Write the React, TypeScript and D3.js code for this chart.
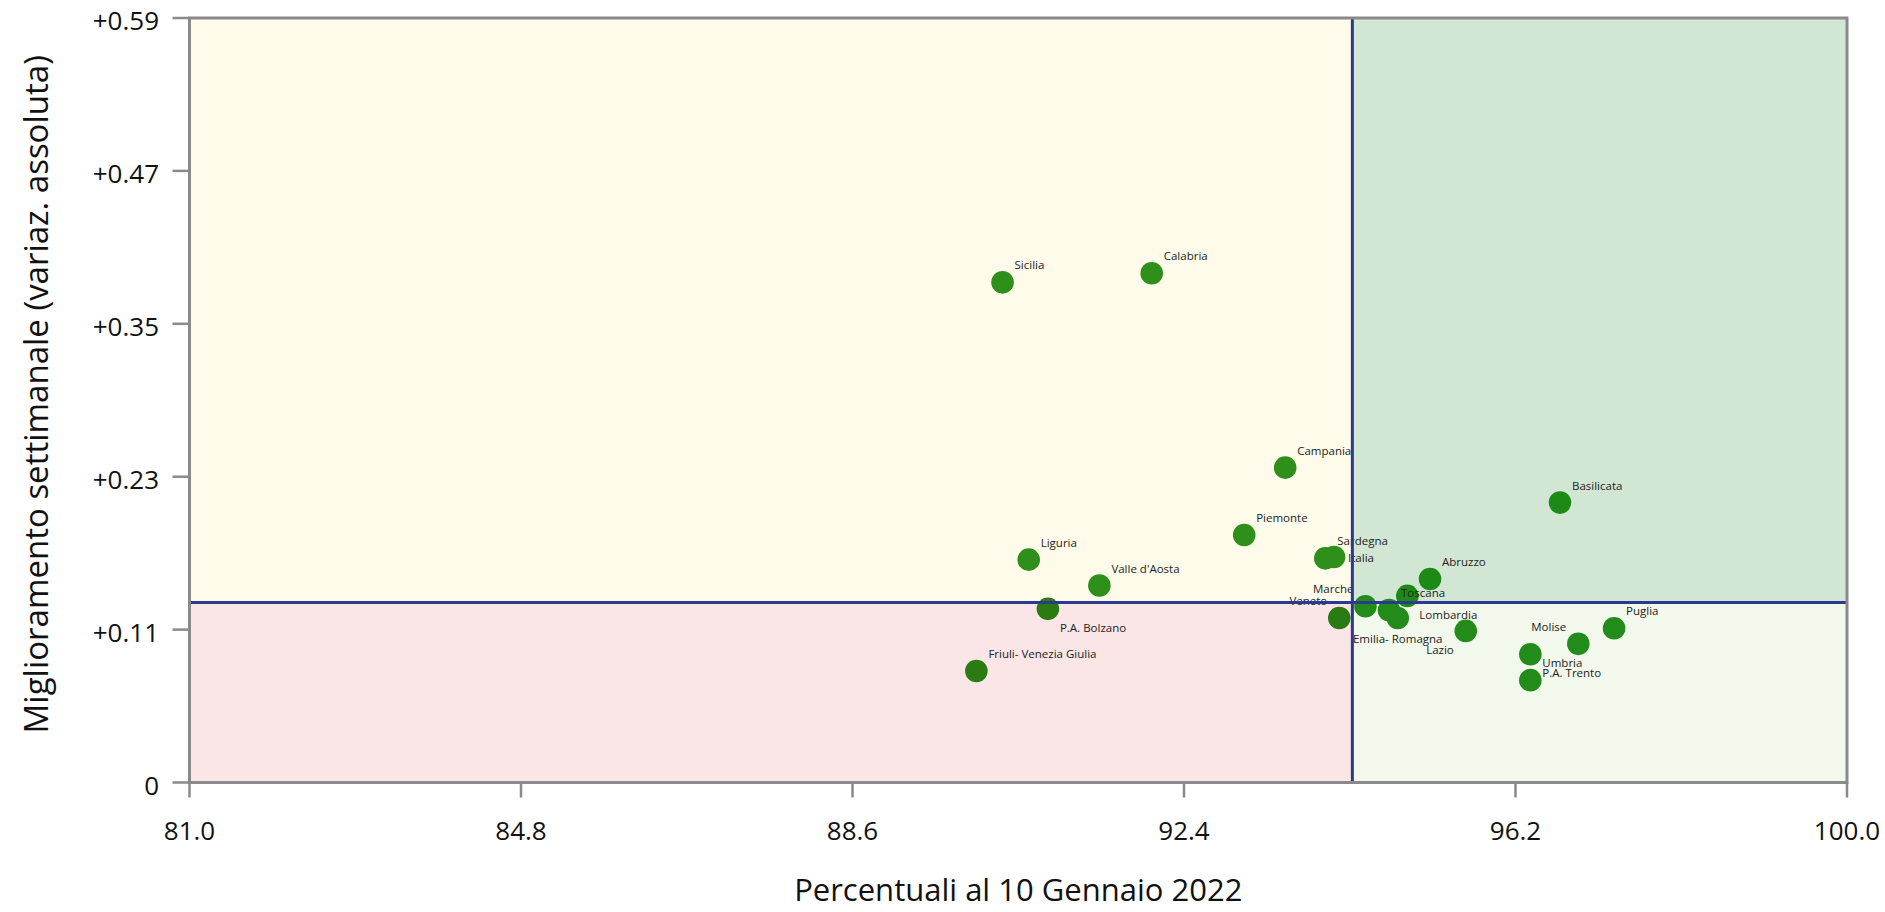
import React from "react";
import * as d3 from "d3";

const regions = [
  "Sicilia", "Calabria", "Campania", "Piemonte", "Liguria", "Valle d'Aosta",
  "P.A. Bolzano", "Friuli- Venezia Giulia", "Sardegna", "Italia", "Marche",
  "Veneto", "Toscana", "Emilia- Romagna", "Lombardia", "Abruzzo", "Lazio",
  "Basilicata", "Puglia", "Molise", "Umbria", "P.A. Trento",
];
const percentuali = [
  90.32, 92.03, 93.56, 93.09, 90.62, 91.43,
  90.84, 90.02, 94.02, 94.12, 94.48,
  94.18, 94.75, 94.85, 94.96, 95.22, 95.63,
  96.71, 97.33, 96.92, 96.37, 96.37,
];
const miglioramento = [
  0.386, 0.393, 0.243, 0.191, 0.172, 0.152,
  0.134, 0.086, 0.173, 0.174, 0.136,
  0.127, 0.133, 0.127, 0.144, 0.157, 0.117,
  0.216, 0.119, 0.107, 0.079, 0.099,
];
// label placement keyword per region (styling, not data)
const labelPlacement: Record<string, string> = {
  "Marche": "NW", "Veneto": "NW", "Molise": "NW",
  "P.A. Bolzano": "SE", "Lombardia": "SE", "P.A. Trento": "SE",
  "Lazio": "SW", "Emilia- Romagna": "S", "Italia": "E",
};
const refX = 94.33;
const refY = 0.139;
const xDomain = [81, 100];
const yDomain = [0, 0.59];
const xTickValues = [81.0, 84.8, 88.6, 92.4, 96.2, 100.0];
const xTickLabels = ["81.0", "84.8", "88.6", "92.4", "96.2", "100.0"];
const yTickLabels = ["0", "+0.11", "+0.23", "+0.35", "+0.47", "+0.59"];
const xTitle = "Percentuali al 10 Gennaio 2022";
const yTitle = "Miglioramento settimanale (variaz. assoluta)";

const W = 1885, H = 912;
const M = { left: 189.5, right: 1847, top: 18, bottom: 782.5 };
const FONT = "'Open Sans', 'Noto Sans', sans-serif";

const offsets: Record<string, [number, number, string]> = {
  NE: [12, -13, "start"],
  NW: [-12, -13, "end"],
  SE: [12, 23, "start"],
  SW: [-12, 23, "end"],
  S: [0, 25, "middle"],
  E: [14, 5, "start"],
};

export default function App() {
  const x = d3.scaleLinear().domain(xDomain).range([M.left, M.right]);
  const y = d3.scaleLinear().domain(yDomain).range([M.bottom, M.top]);
  const yTickValues = d3.range(6).map((i) => (yDomain[1] * i) / 5);
  const rx = x(refX), ry = y(refY);

  const colorFor = (px: number, py: number) => {
    if (px < refX && py >= refY) return "#2e8f1a";
    if (px >= refX && py >= refY) return "#1c8a14";
    if (px < refX && py < refY) return "#2a7b12";
    return "#228b1a";
  };

  const pts = regions.map((name, i) => ({
    name,
    px: percentuali[i],
    py: miglioramento[i],
  }));

  const gridColor = "#8a8a8a";

  return (
    <svg width={W} height={H} style={{ position: "absolute", left: 0, top: 0 }} fontFamily={FONT}>
      <rect x={0} y={0} width={W} height={H} fill="#ffffff" />
      {/* quadrants */}
      <rect x={M.left} y={M.top} width={rx - M.left} height={ry - M.top} fill="#fffbeb" />
      <rect x={rx} y={M.top} width={M.right - rx} height={ry - M.top} fill="#d2e7d3" />
      <rect x={M.left} y={ry} width={rx - M.left} height={M.bottom - ry} fill="#fae5e7" />
      <rect x={rx} y={ry} width={M.right - rx} height={M.bottom - ry} fill="#f2f8ec" />

      {/* points */}
      {pts.map((p) => (
        <circle key={p.name} cx={x(p.px)} cy={y(p.py)} r={11.3} fill={colorFor(p.px, p.py)} />
      ))}
      {/* labels */}
      {pts.map((p) => {
        const [dx, dy, anchor] = offsets[labelPlacement[p.name] || "NE"];
        return (
          <text key={p.name + "-l"} x={x(p.px) + dx} y={y(p.py) + dy} textAnchor={anchor}
            fontSize={11.5} fill="#222222">
            {p.name}
          </text>
        );
      })}

      {/* reference lines */}
      <line x1={rx} x2={rx} y1={M.top} y2={M.bottom} stroke="#2b3990" strokeWidth={3} />
      <line x1={M.left} x2={M.right} y1={ry} y2={ry} stroke="#2b3990" strokeWidth={3} />

      {/* frame */}
      <rect x={M.left} y={M.top} width={M.right - M.left} height={M.bottom - M.top}
        fill="none" stroke={gridColor} strokeWidth={3} />

      {/* y ticks */}
      {yTickValues.map((v, i) => (
        <g key={"yt" + i}>
          <line x1={M.left - 17} x2={M.left} y1={y(v)} y2={y(v)} stroke={gridColor} strokeWidth={2.5} />
          <text x={159} y={y(v) + 12} textAnchor="end" fontSize={26} fill="#111">
            {yTickLabels[i]}
          </text>
        </g>
      ))}
      {/* x ticks */}
      {xTickValues.map((v, i) => (
        <g key={"xt" + i}>
          <line x1={x(v)} x2={x(v)} y1={M.bottom} y2={M.bottom + 15} stroke={gridColor} strokeWidth={2.5} />
          <text x={x(v)} y={840} textAnchor="middle" fontSize={26} fill="#111">
            {xTickLabels[i]}
          </text>
        </g>
      ))}

      {/* titles */}
      <text x={(M.left + M.right) / 2} y={901} textAnchor="middle" fontSize={31} fill="#111">
        {xTitle}
      </text>
      <text transform={`translate(48, ${(M.top + M.bottom) / 2 - 6}) rotate(-90)`} textAnchor="middle"
        fontSize={33} fill="#111">
        {yTitle}
      </text>
    </svg>
  );
}
